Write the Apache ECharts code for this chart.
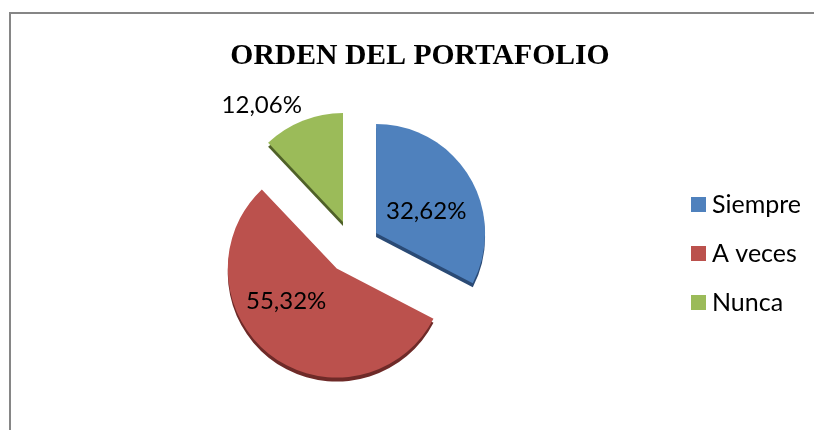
<!DOCTYPE html>
<html>
<head>
<meta charset="utf-8">
<style>
    html, body { margin: 0; padding: 0; background: #fff; overflow: hidden; }
    #frame { position: absolute; left: 9px; top: 12px; right: -4px; bottom: -4px; border: 2px solid #868686; }
    #chart { position: absolute; left: 0; top: 0; width: 814px; height: 430px; }
</style>
<script src="https://cdn.jsdelivr.net/npm/echarts@6/dist/echarts.min.js"></script>
</head>
<body>
<div id="frame"></div>
<div id="chart"></div>
<script>
const categories = ["Siempre", "A veces", "Nunca"];
const values = [32.62, 55.32, 12.06];
const colors = ["#4f81bd", "#bb514d", "#9bbb59"];
const sideColors = ["#2a4a75", "#6e2a28", "#4f6128"];

const chart = echarts.init(document.getElementById("chart"));
// desplazamiento de cada etiqueta respecto a su porcion
const labelShift = [
    { dx: 1, dy: 8 },
    { dx: -16, dy: -13 },
    { dx: -60, dy: -63 }
];

const basePie = {
    type: "pie",
    center: [353, 247],
    radius: [0, 109],
    startAngle: 90,
    clockwise: true,
    animation: false,
    silent: true,
    selectedMode: "multiple",
    selectedOffset: 27
};

chart.setOption({
    animation: false,
    color: colors,
    title: {
        text: "ORDEN DEL PORTAFOLIO",
        left: 415,
        top: 36,
        textAlign: "center",
        textStyle: { fontFamily: "Liberation Serif", fontWeight: "bold", fontSize: 29.7, color: "#000" }
    },
    legend: {
        orient: "vertical",
        left: 686,
        top: 187,
        itemWidth: 15,
        itemHeight: 15,
        itemGap: 24,
        icon: "rect",
        data: categories,
        textStyle: { fontFamily: "Lato", fontSize: 25, lineHeight: 25, color: "#000", padding: [0, 0, 0, 1] }
    },
    series: [
        // canto inferior de las porciones (efecto 3D)
        Object.assign({}, basePie, {
            name: "canto",
            center: [353, 251],
            label: { show: false },
            data: categories.map((name, i) => ({
                name: name + " ",
                value: values[i],
                selected: true,
                itemStyle: { color: sideColors[i] },
                select: { itemStyle: { color: sideColors[i] } }
            }))
        }),
        Object.assign({}, basePie, {
            name: "Orden",
            labelLayout: params => labelShift[params.dataIndex],
            data: categories.map((name, i) => ({
                name: name,
                value: values[i],
                selected: true,
                itemStyle: { color: colors[i] },
                select: { itemStyle: { color: colors[i] } },
                label: {
                    show: true,
                    position: "inside",
                    fontFamily: "Lato",
                    fontSize: 24,
                    color: "#000",
                    formatter: p => p.value.toFixed(2).replace(".", ",") + "%"
                },
                labelLine: { show: false }
            }))
        })
    ]
});
</script>
</body>
</html>
